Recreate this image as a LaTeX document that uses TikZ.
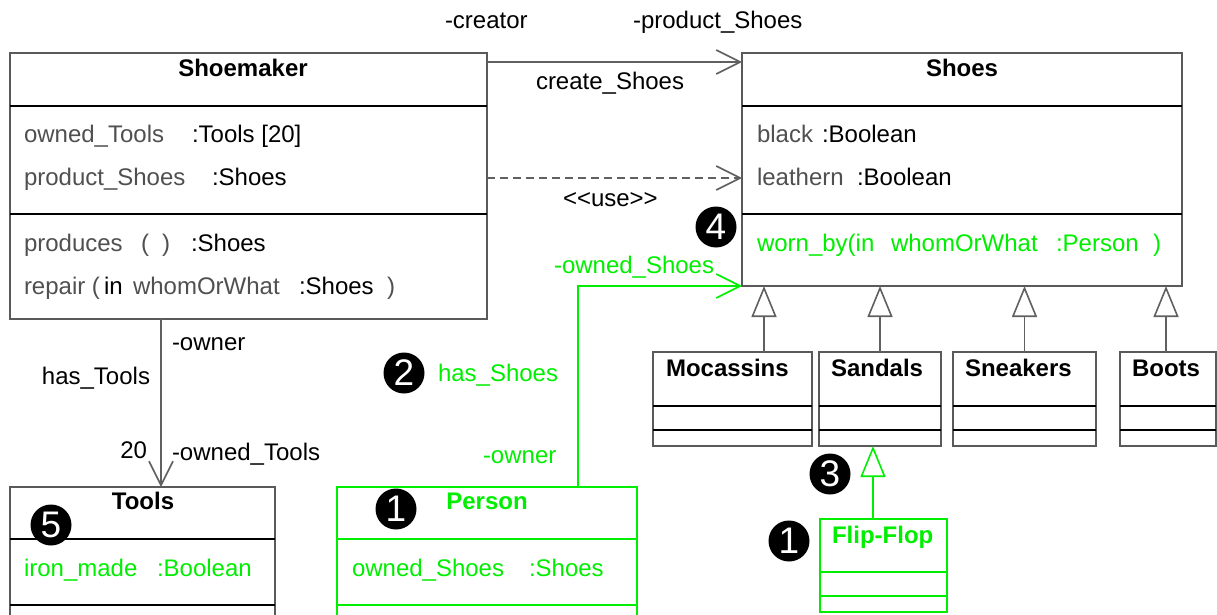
\documentclass[tikz,border=0pt]{standalone}
\usepackage{fontspec}
\setmainfont{Liberation Sans}
\usetikzlibrary{arrows.meta,calc}
\definecolor{boxgray}{HTML}{5A5A5A}
\definecolor{linegray}{HTML}{606060}
\definecolor{attrgray}{HTML}{505050}
\definecolor{umlgreen}{HTML}{00EE00}

% horizontal compartment rule inside a class box: [colour]{node}{offset from top}
\newcommand\umlrule[3][black]{%
  \draw[#1, line width=1.6pt] ([yshift=-#3pt]#2.north west) -- ([yshift=-#3pt]#2.north east);}

\begin{document}
\begin{tikzpicture}[x=1pt,y=-1pt,
  every node/.style={inner sep=0pt, outer sep=0pt},
  txt/.style={font=\fontsize{24}{28}\selectfont, anchor=base west},
  attr/.style={txt, text=attrgray},
  gtxt/.style={txt, text=umlgreen},
  ctitle/.style={font=\fontsize{24}{28}\selectfont\bfseries, anchor=base},
  ltitle/.style={font=\fontsize{24}{28}\selectfont\bfseries, anchor=base west},
  umlclass/.style={draw=boxgray, line width=1.6pt, anchor=north west, fill=white},
  gclass/.style={umlclass, draw=umlgreen},
  badge/.style={circle, fill=black, text=white, minimum size=41pt,
    font=\fontsize{37}{37}\selectfont},
  assoc/.style={draw=linegray, line width=1.6pt, -{Straight Barb[length=24pt,width=24pt]}},
  usedep/.style={assoc, dash pattern=on 8pt off 5pt},
  gen/.style={draw=linegray, line width=1.6pt,
    -{Triangle[length=31pt,width=25pt,fill=white]}},
]
\useasboundingbox (0,0) rectangle (1217,615);
\clip (0,0) rectangle (1217,615);

% ---------- class boxes ----------
\node[umlclass, minimum width=477pt, minimum height=266pt] (shoemaker) at (10,53) {};
\node[umlclass, minimum width=440pt, minimum height=233pt] (shoes) at (742,53) {};
\node[umlclass, minimum width=265pt, minimum height=150pt] (tools) at (10,487) {};
\node[gclass, minimum width=300pt, minimum height=150pt] (person) at (337,487) {};
\node[umlclass, minimum width=159pt, minimum height=94pt] (mocassins) at (653,352) {};
\node[umlclass, minimum width=122pt, minimum height=94pt] (sandals) at (819,352) {};
\node[umlclass, minimum width=143pt, minimum height=94pt] (sneakers) at (953,352) {};
\node[umlclass, minimum width=96pt, minimum height=94pt] (boots) at (1120,352) {};
\node[gclass, minimum width=127pt, minimum height=93pt] (flipflop) at (820,519) {};

\umlrule{shoemaker}{53}  \umlrule{shoemaker}{161}
\umlrule{shoes}{53}      \umlrule{shoes}{161}
\umlrule{tools}{52}      \umlrule{tools}{118}
\umlrule[umlgreen]{person}{52} \umlrule[umlgreen]{person}{118}
\umlrule{mocassins}{54}  \umlrule{mocassins}{78}
\umlrule{sandals}{54}    \umlrule{sandals}{78}
\umlrule{sneakers}{54}   \umlrule{sneakers}{78}
\umlrule{boots}{54}      \umlrule{boots}{78}
\umlrule[umlgreen]{flipflop}{53} \umlrule[umlgreen]{flipflop}{77}

% ---------- Shoemaker ----------
\node[ctitle] (smTitle) at (243,76.7) {Shoemaker};
\node[attr] (smA1) at (24,142.7) {owned\_Tools};
\node[txt]  (smA1t) at (192,142.7) {:Tools [20]};
\node[attr] (smA2) at (24,185.7) {product\_Shoes};
\node[txt]  (smA2t) at (212,185.7) {:Shoes};
\node[attr] (smO1) at (24,251.7) {produces};
\node[attr] (smO1a) at (141,251.7) {(};
\node[attr] (smO1b) at (162,251.7) {)};
\node[txt]  (smO1t) at (191,251.7) {:Shoes};
\node[attr] (smO2) at (24,294) {repair (};
\node[txt]  (smO2in) at (104,294) {in};
\node[attr] (smO2p) at (133,294) {whomOrWhat};
\node[txt]  (smO2t) at (299,294) {:Shoes};
\node[attr] (smO2c) at (387,294) {)};

% ---------- Shoes ----------
\node[ctitle] (shTitle) at (962,76.7) {Shoes};
\node[attr] (shA1) at (757,142.7) {black};
\node[txt]  (shA1t) at (822,142.7) {:Boolean};
\node[attr] (shA2) at (757,185.7) {leathern};
\node[txt]  (shA2t) at (857,185.7) {:Boolean};
\node[gtxt] (shO1) at (757,251.7) {worn\_by(in};
\node[gtxt] (shO1p) at (891,251.7) {whomOrWhat};
\node[gtxt] (shO1t) at (1056,251.7) {:Person};
\node[gtxt] (shO1c) at (1153,251.7) {)};

% ---------- Tools and Person ----------
\node[ctitle] (toTitle) at (143,509) {Tools};
\node[gtxt] (toA1) at (24,576) {iron\_made};
\node[gtxt] (toA1t) at (157,576) {:Boolean};
\node[ctitle, text=umlgreen] (peTitle) at (487,509) {Person};
\node[gtxt] (peA1) at (352,576) {owned\_Shoes};
\node[gtxt] (peA1t) at (529,576) {:Shoes};

% ---------- subclasses ----------
\node[ltitle] (moTitle) at (666,376.7) {Mocassins};
\node[ltitle] (saTitle) at (831,376.7) {Sandals};
\node[ltitle] (snTitle) at (965,376.7) {Sneakers};
\node[ltitle] (boTitle) at (1132,376.7) {Boots};
\node[ltitle, text=umlgreen] (ffTitle) at (832,543) {Flip-Flop};

% ---------- associations ----------
\draw[assoc] ([yshift=-9pt]shoemaker.north east) -- ([yshift=-9pt]shoes.north west);
\node[txt] (lCreator) at (445,29) {-creator};
\node[txt] (lProduct) at (633,29) {-product\_Shoes};
\node[txt] (lCreate) at (536,90) {create\_Shoes};

\draw[usedep] ([yshift=-125pt]shoemaker.north east) -- ([yshift=-125pt]shoes.north west);
\node[txt] (lUse) at (563,206) {<{}<use>{}>};

\coordinate (toolsEnd) at ([xshift=151pt]shoemaker.south west);
\draw[assoc] (toolsEnd) -- (toolsEnd |- tools.north);
\node[txt] (lOwner) at (172,350) {-owner};
\node[txt, anchor=base east] (lHasTools) at (150,384) {has\_Tools};
\node[txt, anchor=base east] (lMult) at (147,458) {20};
\node[txt] (lOwnedTools) at (172,460) {-owned\_Tools};

\coordinate (personEnd) at ([xshift=241pt]person.north west);
\draw[assoc, draw=umlgreen] (personEnd) |- (shoes.south west);
\node[gtxt] (lOwnedShoes) at (554,273) {-owned\_Shoes};
\node[gtxt] (lHasShoes) at (438,381) {has\_Shoes};
\node[gtxt] (lOwnerG) at (483,463) {-owner};

% ---------- generalisations ----------
\coordinate (moTop) at ([xshift=111pt]mocassins.north west);
\draw[gen] (moTop) -- (moTop |- shoes.south);
\draw[gen] (sandals.north) -- (sandals.north |- shoes.south);
\draw[gen] (sneakers.north) -- (sneakers.north |- shoes.south);
\coordinate (boTop) at ([xshift=46pt]boots.north west);
\draw[gen] (boTop) -- (boTop |- shoes.south);
\coordinate (ffTop) at ([xshift=53pt]flipflop.north west);
\draw[gen, draw=umlgreen] (ffTop) -- (ffTop |- sandals.south);

% ---------- numbered markers ----------
\node[badge] (b4) at (716,227) {4};
\node[badge] (b2) at (404,373) {2};
\node[badge] (b1p) at (396,509) {1};
\node[badge] (b5) at (51,525) {5};
\node[badge] (b3) at (830,474) {3};
\node[badge] (b1f) at (789,541) {1};
\end{tikzpicture}
\end{document}
